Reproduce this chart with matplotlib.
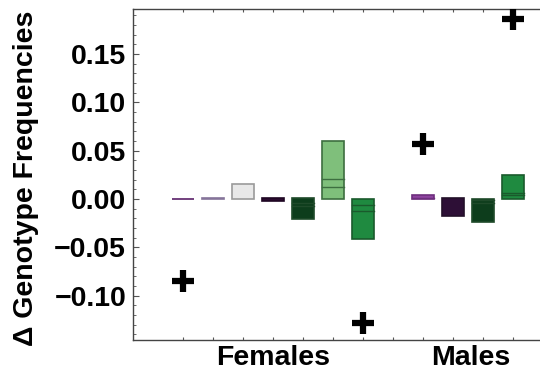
import numpy as np
import matplotlib.pyplot as plt
from matplotlib.ticker import MultipleLocator

plt.rcParams['font.family'] = ['Liberation Sans', 'DejaVu Sans']
plt.rcParams['font.weight'] = 'bold'

# box positions, lower / upper edges, inner lines, colours
positions = [1, 2, 3, 4, 5, 6, 7, 9, 10, 11, 12]
box_lo = [-0.0003, 0.0003, 0.0, -0.0026, -0.0204, 0.0, -0.0417,
          -0.0003, -0.0173, -0.0238, 0.0]
box_hi = [0.0004, 0.0012, 0.0152, 0.0006, 0.0007, 0.0604, 0.0003,
          0.0038, 0.0007, 0.0003, 0.0245]
inner = [[], [], [], [], [-0.0038, -0.0072], [0.0204, 0.0121], [-0.0066, -0.0124],
         [0.0012], [], [-0.001, -0.0045], [0.0065, 0.004]]
fills = ['#6a2c7a', '#9b88ad', '#e8e8e8', '#2b0b30', '#0d3d1c', '#7fbf7b', '#1f8a40',
         '#8f44a0', '#2d0f36', '#0d3d1c', '#1f8a40']
edges = ['#5a2068', '#85749a', '#9a9a9a', '#1e0622', '#1f4a2a', '#3d6e40', '#1a5a2c',
         '#6e2f7e', '#231029', '#1f4a2a', '#1a5a2c']

out_x = [1, 7, 9, 12]
out_y = [-0.0849, -0.128, 0.0569, 0.186]

groups = ['Females', 'Males']
group_x = [4, 10.6]

fig = plt.figure(figsize=(5.4, 3.79), dpi=100)
ax = fig.add_axes([133 / 540, 1 - 340 / 379, 1 - 133 / 540, (340 - 9) / 379])

w = 0.73
for p, lo, hi, ins, fc, ec in zip(positions, box_lo, box_hi, inner, fills, edges):
    ax.add_patch(plt.Rectangle((p - w / 2, lo), w, hi - lo, facecolor=fc,
                               edgecolor=ec, linewidth=1.2, zorder=2))
    for v in ins:
        ax.plot([p - w / 2, p + w / 2], [v, v], color=ec, lw=1.0, zorder=3)

ax.plot(out_x, out_y, linestyle='none', marker='+', color='black',
        markersize=16, markeredgewidth=4.5, zorder=4)

ax.set_xlim(1 - 50 / 30, 1 + (540 - 183) / 30)
ax.set_ylim(-0.146, 0.1967)

ax.set_xticks(range(1, 13))
ax.set_xticklabels([])
ax.tick_params(axis='x', which='both', direction='in', top=True, length=2.5,
               width=0.8, color='#555555')
ax.yaxis.set_major_locator(MultipleLocator(0.05))
ax.yaxis.set_minor_locator(MultipleLocator(0.01))
ax.tick_params(axis='y', which='major', direction='in', length=4.5, width=0.8,
               color='#555555', labelsize=20.5, pad=5)
ax.tick_params(axis='y', which='minor', direction='in', length=2.2, width=0.6,
               color='#555555')
ax.yaxis.set_major_formatter(plt.FuncFormatter(
    lambda v, _: ('\u2212' if v < -1e-9 else '') + '%.2f' % abs(v)))
for lab in ax.get_yticklabels():
    lab.set_fontweight('bold')

ax.spines['right'].set_visible(False)
for s in ['left', 'top', 'bottom']:
    ax.spines[s].set_color('#444444')
    ax.spines[s].set_linewidth(1.0)

for g, gx in zip(groups, group_x):
    ax.text(gx, -0.1515, g, ha='center', va='top',
            fontsize=20.5, fontweight='bold')

fig.text(26 / 540, 1 - 178 / 379, '\u0394 Genotype Frequencies', rotation=90,
         ha='center', va='center', fontsize=20.5, fontweight='bold')

fig.savefig('out.png', dpi=100)
